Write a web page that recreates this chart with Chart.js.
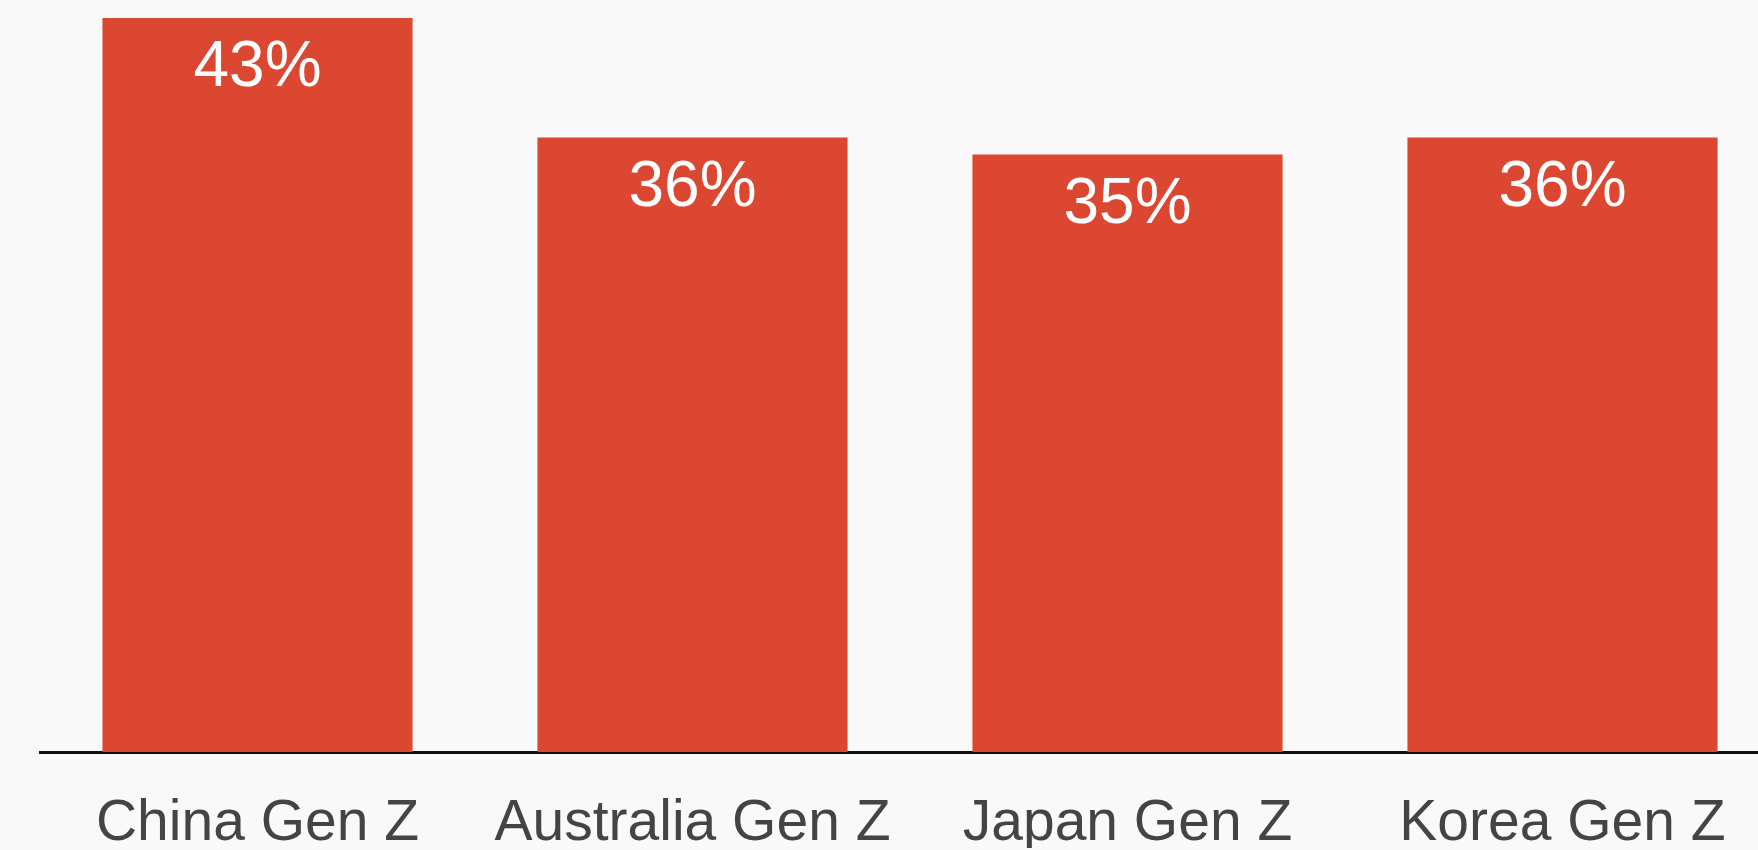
<!DOCTYPE html>
<html>
<head>
<meta charset="utf-8">
<script src="https://cdn.jsdelivr.net/npm/chart.js@4"></script>
<style>
  html, body { margin: 0; padding: 0; background: #f9f9f9; overflow: hidden; }
  #wrap { width: 1790px; height: 850px; }
</style>
</head>
<body>
<div id="wrap"><canvas id="genzCanvas"></canvas></div>
<script>
var categories = ["China Gen Z", "Australia Gen Z", "Japan Gen Z", "Korea Gen Z"];
var shares = [43, 36, 35, 36];

// draws the % value inside the top of each bar
var valueLabels = {
    id: "valueLabels",
    afterDatasetsDraw: function(chart){
        var ctx = chart.ctx;
        var meta = chart.getDatasetMeta(0);
        ctx.save();
        ctx.fillStyle = "#ffffff";
        ctx.font = "64px 'Liberation Sans', Arial, sans-serif";
        ctx.textAlign = "center";
        ctx.textBaseline = "alphabetic";
        meta.data.forEach(function(bar, i){
            ctx.fillText(shares[i] + "%", bar.x, bar.y + 68);
        });
        ctx.restore();
    }
};

var ctx = document.getElementById("genzCanvas");
var chart = new Chart(ctx, {
    type: "bar",
    data: {
        labels: categories,
        datasets: [{
            data: shares,
            backgroundColor: "#dc4731",
            borderWidth: 0,
            categoryPercentage: 1,
            barPercentage: 0.713
        }]
    },
    options: {
        responsive: true,
        maintainAspectRatio: false,
        animation: false,
        layout: { padding: { left: 40, right: 10, top: 1, bottom: 2 } },
        plugins: {
            legend: { display: false },
            tooltip: { enabled: false }
        },
        scales: {
            x: {
                z: 1,
                grid: { display: false },
                border: { display: true, color: "#111111", width: 3 },
                afterFit: function(scale){ scale.height = 96; },
                ticks: {
                    color: "#444444",
                    padding: 36,
                    maxRotation: 0,
                    font: { family: "'Liberation Sans', Arial, sans-serif", size: 57, lineHeight: 1.0 }
                }
            },
            y: {
                display: false,
                min: 0,
                max: 44
            }
        }
    },
    plugins: [valueLabels]
});
</script>
</body>
</html>
